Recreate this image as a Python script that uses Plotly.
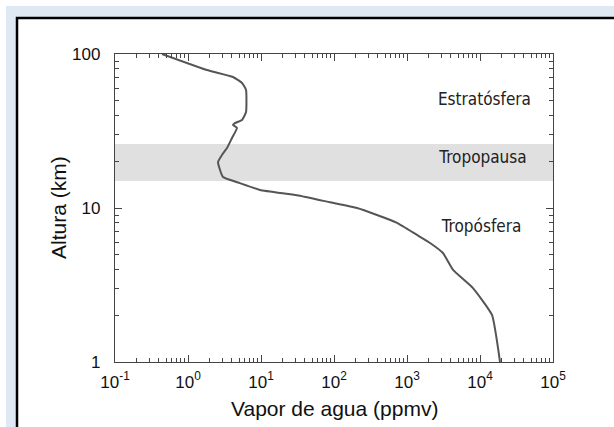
import plotly.graph_objects as go

# Water vapour profile (ppmv) vs altitude (km)
vapor = [0.44, 1.82, 4.13, 5.5, 6.24, 6.24, 5.5, 4.40, 4.13, 4.69, 4.01, 3.42, 2.92, 2.58, 2.74,
         3.01, 5.15, 9.7, 31.1, 88, 207, 388, 730, 1370, 2070, 3110, 4270, 8020, 14600, 18800]
altura = [100, 78.7, 70.9, 64.8, 58.4, 42.0, 37.3, 35.6, 34.6, 33.1, 28.5, 24.5, 22.1, 19.9, 17.7,
          15.9, 14.5, 13.1, 12.1, 10.9, 10.0, 9.0, 8.0, 6.68, 5.93, 5.1, 3.96, 3.02, 2.02, 1.0]

tropopausa_alt = [15, 26]
capas = ["Estratósfera", "Tropopausa", "Tropósfera"]
capas_x = [1.15e4, 1.1e4, 1.05e4]
capas_y = [50, 21, 7.4]

x_ticks = [0.1, 1, 10, 100, 1000, 10000, 100000]
x_ticktext = ["10<sup>-1</sup>", "10<sup>0</sup>", "10<sup>1</sup>", "10<sup>2</sup>",
              "10<sup>3</sup>", "10<sup>4</sup>", "10<sup>5</sup>"]
y_ticks = [1, 10, 100]
y_ticktext = ["1", "10", "100"]
minor_mult = [2, 3, 4, 5, 6, 7, 8, 9]
x_minor = [m * d for d in x_ticks[:-1] for m in minor_mult]
y_minor = [m * d for d in y_ticks[:-1] for m in minor_mult]

fig = go.Figure()

# tropopause band
fig.add_trace(go.Scatter(
    x=[x_ticks[0], x_ticks[-1], x_ticks[-1], x_ticks[0]],
    y=[tropopausa_alt[0], tropopausa_alt[0], tropopausa_alt[1], tropopausa_alt[1]],
    fill="toself", fillcolor="#e0e0e0", line=dict(width=0), mode="lines",
    hoverinfo="skip", showlegend=False))

fig.add_trace(go.Scatter(x=vapor, y=altura, mode="lines",
                         line=dict(color="#555555", width=2, shape="spline", smoothing=0.4),
                         showlegend=False))

fig.add_trace(go.Scatter(x=capas_x, y=capas_y, mode="text", text=capas,
                         textfont=dict(family="Liberation Sans Narrow, DejaVu Sans Condensed, sans-serif",
                                       size=17, color="#222222"),
                         showlegend=False))

L, R, T, B = 115, 61, 54, 65
W, H = 614, 427
pw, ph = W - L - R, H - T - B

def px(x):
    return (x - L) / pw

def py(y):
    return (H - B - y) / ph

shapes = [
    dict(type="rect", xref="paper", yref="paper", x0=px(6), x1=px(700), y0=py(6), y1=py(500),
         fillcolor="#dfe9f4", line=dict(width=0), layer="below"),
    dict(type="rect", xref="paper", yref="paper", x0=px(17), x1=px(700), y0=py(18), y1=py(500),
         fillcolor="white", line=dict(color="black", width=2.5), layer="below"),
]

def axis_common(minor_vals):
    return dict(showline=True, linecolor="#444444", linewidth=1.3, mirror="ticks",
                ticks="inside", ticklen=7, tickcolor="#444444", tickwidth=1.2,
                showgrid=False, zeroline=False,
                tickfont=dict(family="Liberation Sans, Arial, sans-serif", size=17, color="#111111"),
                minor=dict(ticks="inside", ticklen=4, tickcolor="#444444", tickwidth=1,
                           tickmode="array", tickvals=minor_vals, showgrid=False))

fig.update_xaxes(type="log", range=[-1, 5], tickmode="array", tickvals=x_ticks, ticktext=x_ticktext,
                 ticklabelstandoff=4, **axis_common(x_minor))
fig.update_yaxes(type="log", range=[0, 2], tickmode="array", tickvals=y_ticks, ticktext=y_ticktext,
                 ticklabelstandoff=10, **axis_common(y_minor))

fig.update_layout(
    width=W, height=H,
    margin=dict(l=L, r=R, t=T, b=B),
    paper_bgcolor="white", plot_bgcolor="rgba(0,0,0,0)",
    shapes=shapes,
    annotations=[
        dict(text="Vapor de agua (ppmv)", xref="paper", yref="paper", x=px(334), y=py(408),
             xanchor="center", yanchor="middle", showarrow=False,
             font=dict(family="Liberation Sans, Arial, sans-serif", size=21, color="#111111")),
        dict(text="Altura (km)", xref="paper", yref="paper", x=px(58), y=py(208), textangle=-90,
             xanchor="center", yanchor="middle", showarrow=False,
             font=dict(family="Liberation Sans, Arial, sans-serif", size=21, color="#111111")),
    ],
)

fig.write_html("out.html")
